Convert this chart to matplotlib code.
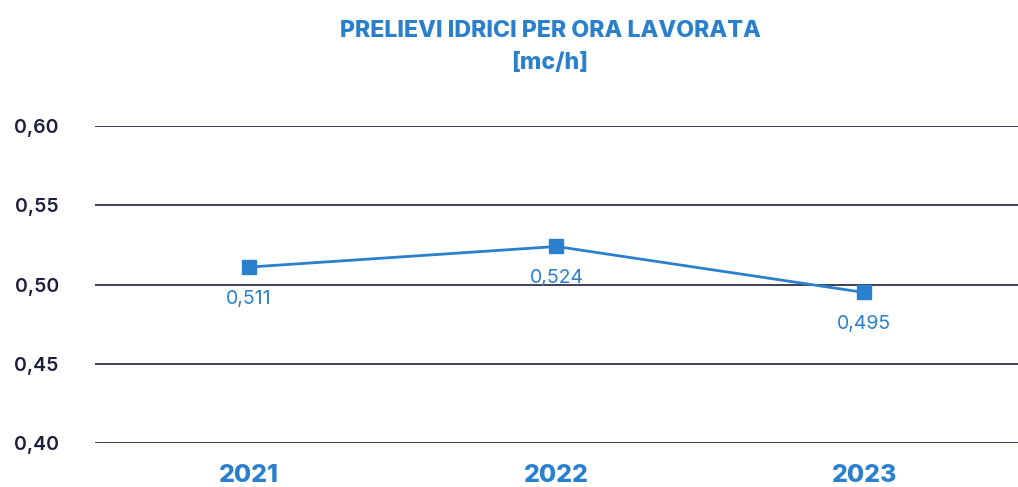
import matplotlib
matplotlib.use("Agg")
import matplotlib.pyplot as plt
from matplotlib.ticker import FuncFormatter

years = ["2021", "2022", "2023"]
values = [0.511, 0.524, 0.495]
labels = ["0,511", "0,524", "0,495"]
yticks = [0.40, 0.45, 0.50, 0.55, 0.60]

blue = "#2b80cd"
navy = "#1c1f3d"

plt.rcParams['font.family'] = ['Inter', 'DejaVu Sans']

fig = plt.figure(figsize=(10.18, 4.87), dpi=100)
ax = fig.add_axes([0.0933, 0.0903, 0.9067, 0.6509])

x = list(range(len(years)))
ax.plot(x, values, color=blue, lw=2.0, marker='s', markersize=10, zorder=3)
for xi, v, lab in zip(x, values, labels):
    ax.annotate(lab, (xi, v), xytext=(0, -23), textcoords='offset points',
                ha='center', va='center', color=blue, fontsize=14)

ax.set_xlim(-0.5, 2.5)
ax.set_ylim(0.40, 0.60)
ax.set_yticks(yticks)
ax.yaxis.set_major_formatter(FuncFormatter(lambda v, p: f"{v:.2f}".replace('.', ',')))
ax.set_xticks(x)
ax.set_xticklabels(years, fontsize=18, fontweight='heavy', color=blue)
for lbl in ax.get_yticklabels():
    lbl.set_fontsize(14)
    lbl.set_color(navy)
    lbl.set_fontweight('semibold')
ax.tick_params(axis='both', length=0)
ax.tick_params(axis='y', pad=26)
ax.tick_params(axis='x', pad=15)
ax.grid(axis='y', color=navy, lw=1.2, zorder=1)
for s in ax.spines.values():
    s.set_visible(False)

cx = 550 / 1018
fig.text(cx, 1 - 31 / 487, "PRELIEVI IDRICI PER ORA LAVORATA", ha='center', va='center',
         fontsize=16.7, fontweight='heavy', color=blue)
fig.text(cx, 1 - 63 / 487, "[mc/h]", ha='center', va='center',
         fontsize=16.7, fontweight='heavy', color=blue)

fig.savefig("out.png", dpi=100)
